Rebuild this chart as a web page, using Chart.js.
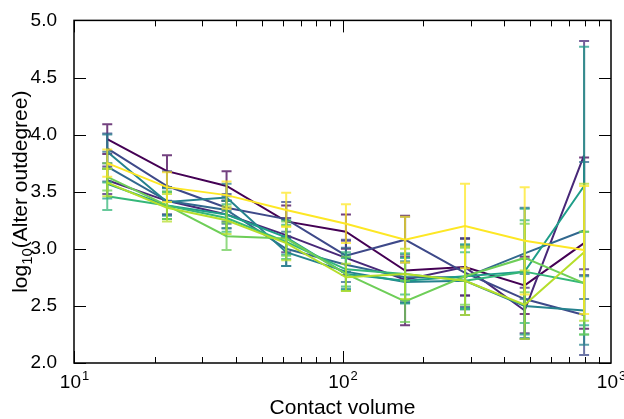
<!DOCTYPE html>
<html>
<head>
<meta charset="utf-8">
<script src="https://cdn.jsdelivr.net/npm/chart.js"></script>
<style>
	html, body { margin: 0; padding: 0; background: #fff; }
	#chart { display: block; }
</style>
</head>
<body>
<canvas id="chart" width="624" height="419"></canvas>
<script>
// x positions (contact volume bins)
const contactVolume = [13.3, 22.2, 37, 61.7, 103, 171, 286, 477, 794];

// mean log10(alter outdegree) per series
const s0 = [3.96, 3.68, 3.55, 3.24, 3.15, 2.81, 2.84, 2.68, 3.05];
const s1 = [3.60, 3.42, 3.30, 3.12, 2.92, 2.73, 2.84, 2.46, 3.82];
const s2 = [3.88, 3.55, 3.36, 3.26, 2.94, 3.08, 2.79, 2.56, 2.42];
const s3 = [3.72, 3.42, 3.34, 3.00, 2.86, 2.75, 2.75, 2.96, 3.16];
const s4 = [3.85, 3.41, 3.45, 2.97, 2.80, 2.71, 2.72, 2.50, 2.46];
const s5 = [3.57, 3.38, 3.30, 3.10, 2.78, 2.72, 2.76, 2.80, 3.55];
const s6 = [3.46, 3.38, 3.27, 3.06, 2.82, 2.78, 2.72, 2.80, 2.70];
const s7 = [3.63, 3.38, 3.11, 3.09, 2.78, 2.54, 2.76, 2.92, 2.70];
const s8 = [3.58, 3.36, 3.25, 3.05, 2.75, 2.78, 2.72, 2.51, 2.97];
const s9 = [3.75, 3.54, 3.47, 3.34, 3.22, 3.08, 3.20, 3.07, 2.99];

// error bar half widths per series
const e0 = [0.13, 0.14, 0.13, 0.14, 0.15, 0.48, 0.25, 0.25, 0.75];
const e1 = [0.12, 0.12, 0.12, 0.15, 0.15, 0.20, 0.25, 0.20, 1.00];
const e2 = [0.13, 0.13, 0.12, 0.15, 0.14, 0.20, 0.30, 0.35, 0.35];
const e3 = [0.13, 0.12, 0.12, 0.15, 0.15, 0.20, 0.28, 0.40, 0.60];
const e4 = [0.15, 0.12, 0.12, 0.12, 0.15, 0.18, 0.30, 0.28, 0.30];
const e5 = [0.13, 0.12, 0.12, 0.15, 0.14, 0.20, 0.28, 0.55, 1.22];
const e6 = [0.12, 0.12, 0.12, 0.15, 0.15, 0.18, 0.25, 0.45, 0.45];
const e7 = [0.12, 0.12, 0.12, 0.15, 0.15, 0.18, 0.25, 0.30, 0.45];
const e8 = [0.12, 0.12, 0.12, 0.15, 0.12, 0.22, 0.30, 0.30, 0.60];
const e9 = [0.12, 0.13, 0.12, 0.15, 0.17, 0.20, 0.37, 0.47, 0.56];

const yTicks = [2.0, 2.5, 3.0, 3.5, 4.0, 4.5, 5.0];
const xMajorTicks = [10, 100, 1000];

const means = [s0, s1, s2, s3, s4, s5, s6, s7, s8, s9];
const errors = [e0, e1, e2, e3, e4, e5, e6, e7, e8, e9];
const colors = ['#440154', '#482878', '#3e4989', '#31688e', '#26828e',
	'#1f9e89', '#35b779', '#6ece58', '#b5de2b', '#fde725'];

const FONT = '"Liberation Sans", Arial, sans-serif';

// draw error bars for each dataset just before its line
const errorBars = {
	id: 'errorBars',
	beforeDatasetDraw(chart, args) {
		const ctx = chart.ctx;
		const xs = chart.scales.x;
		const ys = chart.scales.y;
		const i = args.index;
		ctx.save();
		ctx.strokeStyle = colors[i];
		ctx.globalAlpha = 0.75;
		ctx.lineWidth = 2;
		means[i].forEach((v, j) => {
			const px = xs.getPixelForValue(contactVolume[j]);
			const top = ys.getPixelForValue(v + errors[i][j]);
			const bot = ys.getPixelForValue(v - errors[i][j]);
			ctx.beginPath();
			ctx.moveTo(px, top);
			ctx.lineTo(px, bot);
			ctx.moveTo(px - 5, top);
			ctx.lineTo(px + 5, top);
			ctx.moveTo(px - 5, bot);
			ctx.lineTo(px + 5, bot);
			ctx.stroke();
		});
		ctx.restore();
	}
};

// frame, inward ticks, x labels with superscripts, axis titles
const axesDecor = {
	id: 'axesDecor',
	afterDraw(chart) {
		const ctx = chart.ctx;
		const { left, right, top, bottom } = chart.chartArea;
		const xs = chart.scales.x;
		const ys = chart.scales.y;
		ctx.save();
		ctx.strokeStyle = '#000';
		ctx.lineWidth = 1.5;
		ctx.strokeRect(left, top, right - left, bottom - top);

		ctx.lineWidth = 1;
		ctx.beginPath();
		yTicks.forEach(t => {
			const py = Math.round(ys.getPixelForValue(t)) + 0.5;
			ctx.moveTo(left, py); ctx.lineTo(left + 12, py);
			ctx.moveTo(right, py); ctx.lineTo(right - 12, py);
		});
		for (let d = 1; d <= 2; d++) {
			for (let m = 1; m <= 9; m++) {
				const v = m * Math.pow(10, d);
				const px = Math.round(xs.getPixelForValue(v)) + 0.5;
				const len = m === 1 ? 12 : 6;
				ctx.moveTo(px, bottom); ctx.lineTo(px, bottom - len);
				ctx.moveTo(px, top); ctx.lineTo(px, top + len);
			}
		}
		ctx.stroke();

		// x tick labels 10^n
		ctx.fillStyle = '#000';
		ctx.textBaseline = 'alphabetic';
		xMajorTicks.forEach(v => {
			const px = xs.getPixelForValue(v);
			const exp = String(Math.round(Math.log10(v)));
			ctx.font = '19px ' + FONT;
			const wBase = ctx.measureText('10').width;
			ctx.font = '13px ' + FONT;
			const wExp = ctx.measureText(exp).width;
			const x0 = px - (wBase + wExp) / 2;
			ctx.font = '19px ' + FONT;
			ctx.textAlign = 'left';
			ctx.fillText('10', x0, 388);
			ctx.font = '13px ' + FONT;
			ctx.fillText(exp, x0 + wBase + 1, 380);
		});

		// x title
		ctx.font = '21px ' + FONT;
		ctx.textAlign = 'center';
		ctx.fillText('Contact volume', (left + right) / 2, 414);

		// y title with subscript
		ctx.translate(27, (top + bottom) / 2);
		ctx.rotate(-Math.PI / 2);
		ctx.font = '21px ' + FONT;
		const w1 = ctx.measureText('log').width;
		const w3 = ctx.measureText('(Alter outdegree)').width;
		ctx.font = '15px ' + FONT;
		const w2 = ctx.measureText('10').width;
		let x = -(w1 + w2 + w3) / 2;
		ctx.textAlign = 'left';
		ctx.font = '21px ' + FONT;
		ctx.fillText('log', x, 0);
		x += w1;
		ctx.font = '15px ' + FONT;
		ctx.fillText('10', x, 5);
		x += w2;
		ctx.font = '21px ' + FONT;
		ctx.fillText('(Alter outdegree)', x, 0);
		ctx.restore();
	}
};

new Chart(document.getElementById('chart'), {
	type: 'line',
	data: {
		datasets: means.map((m, i) => ({
			label: 'series ' + i,
			data: m.map((v, j) => ({ x: contactVolume[j], y: v })),
			borderColor: colors[i],
			backgroundColor: colors[i],
			borderWidth: 2,
			pointRadius: 0,
			tension: 0,
			fill: false,
			order: colors.length - 1 - i
		}))
	},
	options: {
		responsive: false,
		animation: false,
		devicePixelRatio: 1,
		layout: { padding: { top: 20, right: 13, left: 0, bottom: 0 } },
		plugins: {
			legend: { display: false },
			tooltip: { enabled: false }
		},
		scales: {
			x: {
				type: 'logarithmic',
				min: 10,
				max: 1000,
				grid: { display: false },
				border: { display: false },
				ticks: { display: false },
				afterFit(scale) { scale.height = 56; }
			},
			y: {
				type: 'linear',
				min: 2,
				max: 5,
				grid: { display: false },
				border: { display: false },
				ticks: {
					stepSize: 0.5,
					padding: 9,
					color: '#000',
					font: { family: FONT, size: 19 },
					callback: v => v.toFixed(1)
				},
				afterFit(scale) { scale.width = 74; }
			}
		}
	},
	plugins: [errorBars, axesDecor]
});
</script>
</body>
</html>
